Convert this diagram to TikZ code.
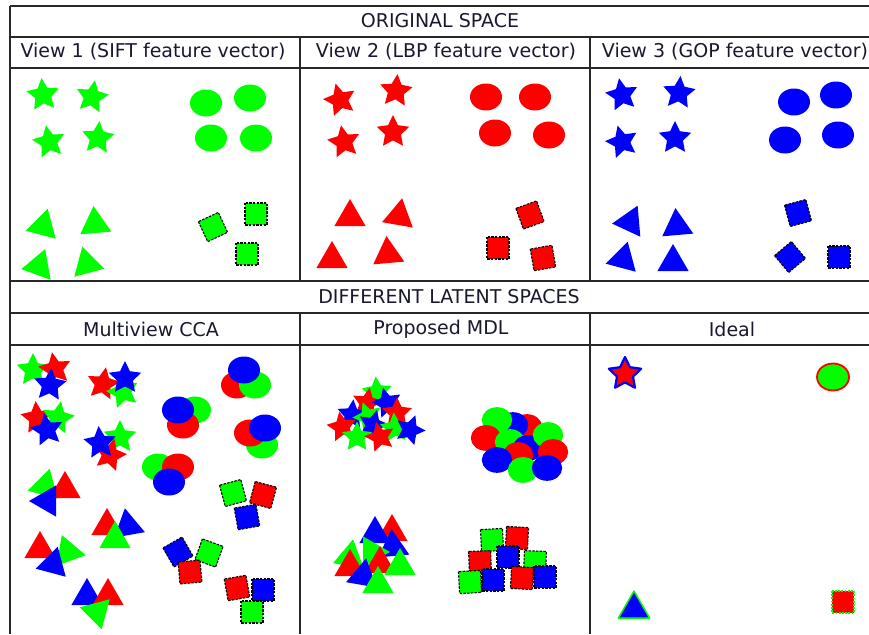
\documentclass[tikz,border=0pt]{standalone}
\usepackage{fontspec}
\setmainfont{DejaVu Sans}
\definecolor{shGreen}{RGB}{0,255,0}
\definecolor{shRed}{RGB}{255,0,0}
\definecolor{shBlue}{RGB}{0,0,255}
\definecolor{gridLine}{RGB}{40,40,40}
\definecolor{capText}{RGB}{25,25,45}
\tikzset{
  pics/starsh/.style={code={\path[pic actions] (-90:17)--(-54:8.4)--(-18:17)--(18:8.4)--(54:17)--(90:8.4)--(126:17)--(162:8.4)--(198:17)--(234:8.4)--cycle;}},
  pics/trish/.style={code={\path[pic actions] (-90:18)--(30:18)--(150:18)--cycle;}},
  pics/circsh/.style={code={\path[pic actions] (0,0) ellipse (16 and 13.5);}},
  pics/sqsh/.style={code={\path[pic actions] (-11,-11) rectangle (11,11);}},
  caption/.style={font=\fontsize{19}{21}\selectfont,text=capText,inner sep=0pt},
  grid/.style={draw=gridLine,line width=1.6pt},
  sqline/.style={draw=black,line width=1.1pt,dash pattern=on 2.4pt off 1.3pt},
}
\begin{document}
\begin{tikzpicture}[x=1pt,y=-1pt,line join=round]
    \useasboundingbox (0,0) rectangle (869,634);
    % table lines
    \foreach \yy in {6,37,68,281,313,345}{\draw[grid] (10,\yy)--(869,\yy);}
    \draw[grid] (10,6)--(10,634);
    \foreach \xx in {300,590}{\draw[grid] (\xx,37)--(\xx,281); \draw[grid] (\xx,313)--(\xx,634);}
    % captions
    \node[caption] (orig) at (440,21) {ORIGINAL SPACE};
    \node[caption] (view1) at (153,52) {View 1 (SIFT feature vector)};
    \node[caption] (view2) at (446,52) {View 2 (LBP feature vector)};
    \node[caption] (view3) at (735,52) {View 3 (GOP feature vector)};
    \node[caption] (latent) at (449,297) {DIFFERENT LATENT SPACES};
    \node[caption] (mcca) at (151,329) {Multiview CCA};
    \node[caption] (mdl) at (441,329) {Proposed MDL};
    \node[caption] (ideal) at (732,329) {Ideal};
    % view 1
    \foreach \px/\py/\rr in {43/95/5,92/97/-10,49/142/10,98/138/-5}{\pic[rotate=\rr,fill=shGreen] at (\px,\py) {starsh};}
    \foreach \px/\py in {206/103,250/98,211/138,256/138}{\pic[fill=shGreen] at (\px,\py) {circsh};}
    \foreach \px/\py/\rr in {43/226/-15,95/224/5,39/266/-20,87/264/15}{\pic[rotate=\rr,fill=shGreen] at (\px,\py) {trish};}
    \foreach \px/\py/\rr in {213/227/25,256/214/0,247/254/0}{\pic[rotate=\rr,fill=shGreen,sqline] at (\px,\py) {sqsh};}
    % view 2
    \foreach \px/\py/\rr in {340/100/15,396/91/-5,344/142/10,393/132/0}{\pic[rotate=\rr,fill=shRed] at (\px,\py) {starsh};}
    \foreach \px/\py in {486/97,535/97,495/133,549/135}{\pic[fill=shRed] at (\px,\py) {circsh};}
    \foreach \px/\py/\rr in {350/217/0,399/216/-10,332/259/0,388/254/5}{\pic[rotate=\rr,fill=shRed] at (\px,\py) {trish};}
    \foreach \px/\py/\rr in {530/215/20,498/248/0,543/258/10}{\pic[rotate=\rr,fill=shRed,sqline] at (\px,\py) {sqsh};}
    % view 3
    \foreach \px/\py/\rr in {622/95/10,679/93/-5,622/142/15,675/138/0}{\pic[rotate=\rr,fill=shBlue] at (\px,\py) {starsh};}
    \foreach \px/\py in {794/102,836/95,785/140,838/135}{\pic[fill=shBlue] at (\px,\py) {circsh};}
    \foreach \px/\py/\rr in {630/222/-25,677/226/5,623/259/-15,673/262/0}{\pic[rotate=\rr,fill=shBlue] at (\px,\py) {trish};}
    \foreach \px/\py/\rr in {798/213/15,790/257/40,839/257/0}{\pic[rotate=\rr,fill=shBlue,sqline] at (\px,\py) {sqsh};}
    % multiview cca
    \foreach \px/\py/\rr/\cc in {33/370/0/shGreen,55/369/10/shRed,50/385/-5/shBlue,
      103/384/-10/shRed,123/392/15/shGreen,125/378/0/shBlue,
      37/418/5/shRed,58/418/-10/shGreen,47/430/10/shBlue,
      120/437/0/shGreen,110/455/-15/shRed,100/443/5/shBlue}{\pic[rotate=\rr,fill=\cc] at (\px,\py) {starsh};}
    \foreach \px/\py/\cc in {195/410/shGreen,183/425/shRed,178/410/shBlue,
      237/385/shRed,255/385/shGreen,244/370/shBlue,
      262/445/shGreen,250/433/shRed,265/428/shBlue,
      158/467/shGreen,178/467/shRed,169/482/shBlue}{\pic[fill=\cc] at (\px,\py) {circsh};}
    \foreach \px/\py/\rr/\cc in {45/486/-15/shGreen,65/489/0/shRed,47/501/-30/shBlue,
      107/526/0/shRed,128/526/10/shBlue,115/539/0/shGreen,
      40/549/0/shRed,68/552/20/shGreen,53/564/-15/shBlue,
      87/596/0/shBlue,108/596/0/shRed,97/612/195/shGreen}{\pic[rotate=\rr,fill=\cc] at (\px,\py) {trish};}
    \foreach \px/\py/\rr/\cc in {233/493/15/shGreen,263/495/-15/shRed,247/517/10/shBlue,
      178/552/30/shBlue,209/553/-20/shGreen,190/572/5/shRed,
      237/588/10/shRed,263/590/0/shBlue,252/612/0/shGreen}{\pic[rotate=\rr,fill=\cc,sqline] at (\px,\py) {sqsh};}
    % proposed mdl
    \foreach \px/\py/\rr/\cc in {377/392/5/shGreen,367/403/-10/shRed,387/403/15/shBlue,397/413/0/shRed,
      352/415/-5/shBlue,368/417/20/shGreen,342/427/10/shRed,373/425/-15/shBlue,
      395/428/5/shGreen,410/430/-20/shBlue,357/437/0/shGreen,380/437/15/shRed}{\pic[rotate=\rr,fill=\cc,scale=0.92] at (\px,\py) {starsh};}
    \foreach \px/\py/\cc in {527/427/shRed,513/425/shBlue,497/420/shGreen,486/438/shRed,
      510/442/shGreen,528/448/shBlue,548/435/shGreen,553/452/shRed,
      518/455/shRed,497/460/shBlue,523/470/shGreen,547/468/shBlue}{\pic[fill=\cc,scale=0.95] at (\px,\py) {circsh};}
    \foreach \px/\py/\rr/\cc in {392/532/0/shRed,375/534/0/shBlue,393/547/5/shBlue,350/557/-10/shGreen,
      372/552/30/shGreen,350/567/0/shRed,380/564/0/shRed,363/576/-10/shBlue,
      400/566/0/shGreen,378/584/0/shGreen}{\pic[rotate=\rr,fill=\cc] at (\px,\py) {trish};}
    \foreach \px/\py/\rr/\cc in {492/540/3/shGreen,517/538/-3/shRed,480/562/2/shRed,508/557/0/shBlue,
      535/562/-2/shGreen,470/582/3/shGreen,493/580/0/shBlue,522/578/-3/shRed,545/577/0/shBlue}{\pic[rotate=\rr,fill=\cc,sqline] at (\px,\py) {sqsh};}
    % ideal
    \pic[fill=shRed,draw=shBlue,line width=2.2pt] at (625,374) {starsh};
    \pic[fill=shGreen,draw=shRed,line width=1.8pt] at (833,377) {circsh};
    \pic[fill=shBlue,draw=shGreen,line width=1.5pt] at (634,609) {trish};
    \pic[fill=shRed,draw=shGreen,line width=1.2pt,dash pattern=on 1.8pt off 1.4pt] at (843,602) {sqsh};
\end{tikzpicture}
\end{document}
